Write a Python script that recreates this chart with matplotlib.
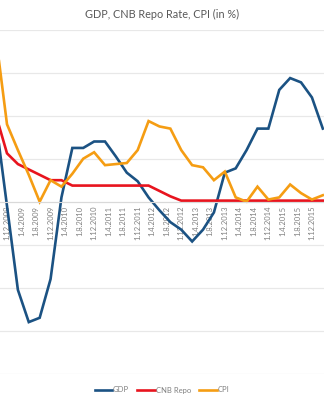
import matplotlib
matplotlib.use("Agg")
import matplotlib.pyplot as plt
import numpy as np

# quarterly observations, Sep 2008 .. Mar 2016
months = np.arange(8, 8 + 3 * 31, 3)  # months since Jan 2008
gdp = [3.7, -0.2,
       -4.1, -5.6, -5.4, -3.6,
       0.2, 2.5, 2.5, 2.8,
       2.8, 2.1, 1.35, 0.95,
       0.2, -0.4, -0.95, -1.3,
       -1.85, -1.3, -0.5, 1.35,
       1.55, 2.4, 3.4, 3.4,
       5.2, 5.75, 5.55, 4.85,
       3.4]
repo = [4.0, 2.25,
        1.75, 1.5, 1.25, 1.0,
        1.0, 0.75, 0.75, 0.75,
        0.75, 0.75, 0.75, 0.75,
        0.75, 0.5, 0.25, 0.05,
        0.05, 0.05, 0.05, 0.05,
        0.05, 0.05, 0.05, 0.05,
        0.05, 0.05, 0.05, 0.05,
        0.05]
cpi = [7.6, 3.6,
       2.4, 1.25, 0.0, 1.0,
       0.7, 1.3, 2.0, 2.3,
       1.7, 1.75, 1.8, 2.4,
       3.75, 3.5, 3.4, 2.4,
       1.7, 1.6, 1.0, 1.4,
       0.2, 0.0, 0.7, 0.1,
       0.2, 0.8, 0.4, 0.1,
       0.3]

tick_months = list(range(11, 96, 4))
tick_labels = ["1.%d.%d" % (m % 12 + 1, 2008 + m // 12) for m in tick_months]

plt.rcParams['font.family'] = ['Lato', 'DejaVu Sans']

fig = plt.figure(figsize=(3.24, 4.0), dpi=100)
ax = fig.add_axes([0, 1 - 373.7 / 400, 1, 344 / 400])

ax.plot(months, gdp, color='#1b5283', lw=1.9, label='GDP', solid_joinstyle='miter')
ax.plot(months, repo, color='#e8141e', lw=1.9, label='CNB Repo', solid_joinstyle='miter')
ax.plot(months, cpi, color='#f59d13', lw=1.9, label='CPI', solid_joinstyle='miter')

ax.set_xlim(11 - 7 / 3.63, 11 + 317 / 3.63)
ax.set_ylim(-8, 8)
ax.set_yticks(range(-8, 9, 2))
ax.tick_params(axis='y', left=False, labelleft=False)
ax.grid(axis='y', color='#e8e8e8', lw=0.9)
ax.set_axisbelow(True)

for s in ['left', 'right', 'top']:
    ax.spines[s].set_visible(False)
ax.spines['bottom'].set_position(('data', 0))
ax.spines['bottom'].set_color('#d9d9d9')
ax.spines['bottom'].set_linewidth(0.8)

ax.set_xticks(tick_months)
ax.set_xticklabels(tick_labels, rotation=90, fontsize=5.5, color='#808080')
ax.tick_params(axis='x', length=0, pad=3)

fig.text(0.5, 1 - 14 / 400, "GDP, CNB Repo Rate, CPI (in %)", ha='center', va='center',
         fontsize=7.8, color='#595959')

fig.legend(loc='center', bbox_to_anchor=(0.5, 1 - 390 / 400), ncol=3, frameon=False,
           fontsize=5.5, labelcolor='#808080', handlelength=2.3, handletextpad=0.1,
           columnspacing=1.1)

fig.savefig('out.png', dpi=100)
